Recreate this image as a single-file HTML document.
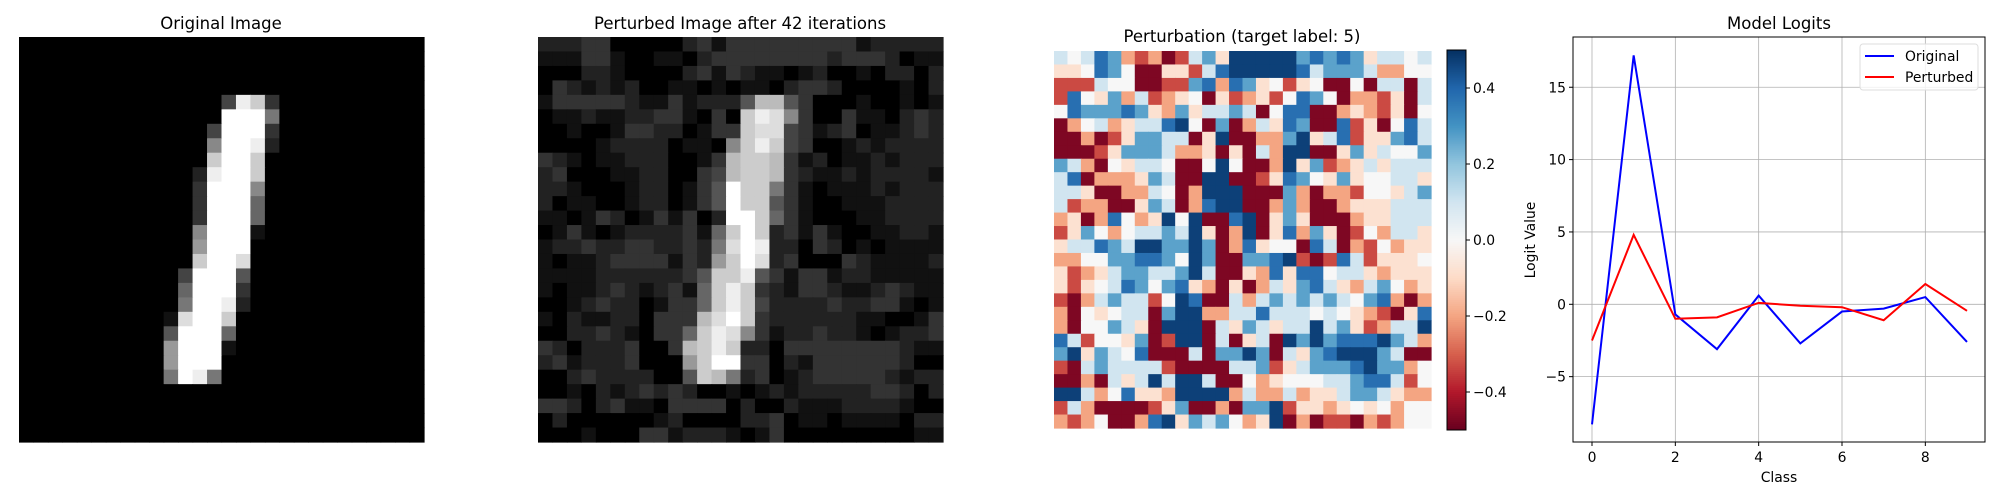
<!DOCTYPE html>
<html><head><meta charset="utf-8">
<style>
html,body{margin:0;padding:0;background:#fff;}
svg{display:block;font-family:"DejaVu Sans","Liberation Sans",sans-serif;}
</style></head>
<body>
<svg id="fig" width="2000" height="500" viewBox="0 0 2000 500" xmlns="http://www.w3.org/2000/svg">
<rect width="2000" height="500" fill="#fff"/>
<text x="221" y="29" text-anchor="middle" font-size="16.5">Original Image</text>
<text x="740" y="29" text-anchor="middle" font-size="16.5">Perturbed Image after 42 iterations</text>
<text x="1242" y="42" text-anchor="middle" font-size="16.5">Perturbation (target label: 5)</text>
<text x="1779" y="29" text-anchor="middle" font-size="16.5">Model Logits</text>
<g id="g-orig"></g>
<g id="g-pert"></g>
<g id="g-heat"></g>
<g id="g-cbar"></g>
<g id="g-logit"></g>
</svg>
<script>
// ---- data ----
const Z="0000000000000000000000000000";
const origRows = [Z,Z,Z,Z,
"00000000000000"+"4ec3","00000000000000"+"fff7","0000000000000"+"4fff3","0000000000000"+"8ffe2",
"0000000000000"+"cffc","000000000000"+"2effc","000000000000"+"3fff8","000000000000"+"3fff6",
"000000000000"+"3fff6","000000000000"+"8fff1","000000000000"+"9fff","000000000000"+"cffd",
"00000000000"+"4fff5","00000000000"+"6fff3","00000000000"+"7ffe2","0000000000"+"1dffc",
"0000000000"+"5fff6","0000000000"+"9fff1","0000000000"+"9fff","0000000000"+"7fe7",
Z,Z,Z,Z];
const pertRows = [
"2223300000231333333333122222","1113310011023333333323332011","0002210000231321101200102202","0321212001101011023320000102",
"13333321131222"+"5bb5"+"3000100101",
"0112112233103"+"0ced8"+"3003110232",
"0010013322013"+"3cdd4"+"3123011232",
"0000122220110"+"8cec4"+"3001212222",
"3210112220013"+"bccb3"+"1201121222",
"230001122003"+"4bccb"+"32112122221",
"221000122013"+"5fcc7"+"31011121222",
"201100122013"+"5fcc5"+"31001112222",
"110132013130"+"2ffc6"+"31000112222",
"013101222231"+"6cfc2"+"31310011221",
"122322332232"+"7dfe"+"220320101111",
"101123333132"+"9cfd"+"230003211112",
"11112222223"+"5cce5"+"313312211111",
"10112321231"+"6cec"+"3213321123211",
"00123220133"+"6cec4"+"222232233101",
"10211220333"+"bdfc"+"3222222110013",
"0022321033"+"6ced8"+"3122322101223",
"3202223003"+"bcec"+"22033333333211",
"2312223000"+"9cff"+"33021333333200",
"0023222200"+"5cb7"+"23012333332122",
"0010212323200101212222233202","3320231103333020021112222100","0200000012000022301101111022","0001000331222101300000000011"];
const heatRows = [
"lwlBboroRrlbpDDDDDbBbBbpllwl","ppwBbwRRpprlBDDDDDBlbbblooww","rrrlwwRRrrbBoBbpwrpwRRwRllRl","rBwpbolropwRproprwBbwRoorpRl",
"wBbbbBbpobpllblRwBBRRoporpRw","RowlopllBDwRbRolpBbRRBrpRwBl","RRoRrpbbllRpDRRoobDplBrppbBl","RRRrpbbbloopRpRloDDRRpbplwwb",
"bloRwpllwRRwDwRRoDpbroplplll","lBRooopblRRDDRRrpBbwpbpwwllp","llpRRoolwRoDDDRRRboRoorwwplb","lrooRRpblRoBDDRRoboRRoppplll",
"opRoBwopDwDRRBDRpbpRRRopplll","rpbwowllblDpRoDRpBobpRrwollp","pllBblDDbbDbRoBpwwRBlRorwopp","oowwbbBBbwDbRRbbBDrRrBlrpppw",
"proplbbllbDlRRpoBpBBwllpoppp","prpwlBbwbBpoRpRolpbBlpolbwop","rRolbllrwDBRRlolblblblwbBoRo","oRwpwllRbDDoollBlllwlwporRpB",
"oRwwblpRDDDRlpblpllDlbprollD","BlrwwpbRrDDRlRplRDbDbBBBDblo","bDpblwBRRRlRbbDbRlpbBDDDblRR","rRlbllllrRRRRllbrplbbbBDbbow",
"RRoRlplDlDDlRRwopwwwllbBBlrw","DDlowBppoDDDDoloolopplbblpoo","rloRRRRrpbRRoRbbDrppopwpwoww","orowRRoBDpblbwopDRoRrrRoroww"];
const classes = [0,1,2,3,4,5,6,7,8,9];
const origLogits = [-8.3,17.2,-0.7,-3.1,0.6,-2.7,-0.5,-0.3,0.5,-2.6];
const pertLogits = [-2.5,4.8,-1.0,-0.9,0.1,-0.1,-0.2,-1.1,1.4,-0.45];
const yTicks = [-5,0,5,10,15];
const xTicks = [0,2,4,6,8];
const cbarTicks = [-0.4,-0.2,0.0,0.2,0.4];
const letterVals = {R:-0.47,r:-0.33,o:-0.2,p:-0.08,w:0,l:0.1,b:0.27,B:0.38,D:0.47};
// ----
const NS="http://www.w3.org/2000/svg";
function mk(tag,attrs,parent){const e=document.createElementNS(NS,tag);for(const k in attrs)e.setAttribute(k,attrs[k]);parent.appendChild(e);return e;}
function gridVal(row,c,fn){const s=row.replace(/ /g,'');return c<s.length?fn(s[c]):fn(null);}
function gray(v){const g=Math.round(Math.max(0,Math.min(1,v))*255);return `rgb(${g},${g},${g})`;}
function drawGray(gid,rows,x0,y0,size){
  const g=document.getElementById(gid);const cs=size/28;
  for(let r=0;r<28;r++)for(let c=0;c<28;c++){
    const v=gridVal(rows[r]||"",c,ch=>ch?parseInt(ch,16)/15:0);
    const e=mk('rect',{x:x0+c*cs,y:y0+r*cs,width:cs+0.6,height:cs+0.6,fill:gray(v)},g);
    
    
  }
}
drawGray('g-orig',origRows,19,37,405);
drawGray('g-pert',pertRows,538,37,405);
const rdbu=["#67001f","#b2182b","#d6604d","#f4a582","#fddbc7","#f7f7f7","#d1e5f0","#92c5de","#4393c3","#2166ac","#053061"];
function hex(h){return [1,3,5].map(i=>parseInt(h.substr(i,2),16));}
function cmap(v){let t=(v+0.5)/1.0;t=Math.max(0,Math.min(1,t))*10;const i=Math.min(9,Math.floor(t));const f=t-i;const a=hex(rdbu[i]),b=hex(rdbu[i+1]);
  return `rgb(${a.map((x,k)=>Math.round(x+(b[k]-x)*f)).join(',')})`;}
(function(){
  const g=document.getElementById('g-heat');const x0=1054,y0=51,size=377,cs=size/28;
  for(let r=0;r<28;r++)for(let c=0;c<28;c++){
    const v=gridVal(heatRows[r],c,ch=>ch&&letterVals[ch]!==undefined?letterVals[ch]:0);
    const e=mk('rect',{x:x0+c*cs,y:y0+r*cs,width:cs+0.6,height:cs+0.6,fill:cmap(v)},g);
    
    
  }
  const cb=document.getElementById('g-cbar');const cx=1447,cw=19,cy0=50,cy1=430;
  const cbY=v=>cy1-(v+0.5)/1.0*(cy1-cy0);
  for(let i=0;i<190;i++){const v=-0.5+(i+0.5)/190;mk('rect',{x:cx,y:cbY(v)-1.2,width:cw,height:2.4,fill:cmap(v)},cb);}
  mk('rect',{x:cx,y:cy0,width:cw,height:cy1-cy0,fill:'none',stroke:'#000','stroke-width':1},cb);
  cbarTicks.forEach(t=>{const y=cbY(t);mk('line',{x1:cx+cw,x2:cx+cw+4,y1:y,y2:y,stroke:'#000'},cb);
    const tx=mk('text',{x:cx+cw+7,y:y+5,'font-size':'13.9'},cb);tx.textContent=(t<0?'\u2212':'')+Math.abs(t).toFixed(1);
    
    });
})();
(function(){
  const g=document.getElementById('g-logit');
  const L=1573,R=1985,T=37,B=442;
  const xS=v=>1592+(v-0)*(1967-1592)/9;
  const yS=v=>304.3-v*14.47;
  yTicks.forEach(t=>{const y=yS(t);mk('line',{x1:L,x2:R,y1:y,y2:y,stroke:'#b0b0b0','stroke-width':0.8},g);
    mk('line',{x1:L-4,x2:L,y1:y,y2:y,stroke:'#000'},g);
    const tx=mk('text',{x:L-7,y:y+5,'text-anchor':'end','font-size':'13.9'},g);tx.textContent=(t<0?'\u2212':'')+Math.abs(t);
    
    });
  xTicks.forEach(t=>{const x=xS(t);mk('line',{x1:x,x2:x,y1:T,y2:B,stroke:'#b0b0b0','stroke-width':0.8},g);
    mk('line',{x1:x,x2:x,y1:B,y2:B+4,stroke:'#000'},g);
    const tx=mk('text',{x:x,y:B+20,'text-anchor':'middle','font-size':'13.9'},g);tx.textContent=t;
    
    });
  function line(vals,color,name){const p=mk('polyline',{points:classes.map((c,i)=>xS(c)+','+yS(vals[i])).join(' '),fill:'none',stroke:color,'stroke-width':2},g);
    
    }
  line(origLogits,'#0000ff','original-line');
  line(pertLogits,'#ff0000','perturbed-line');
  mk('rect',{x:L,y:T,width:R-L,height:B-T,fill:'none',stroke:'#000','stroke-width':1},g);
  const xl=mk('text',{x:1779,y:482,'text-anchor':'middle','font-size':'13.9'},g);xl.textContent='Class';
  
  
  const yl=mk('text',{x:0,y:0,'text-anchor':'middle','font-size':'13.9',transform:'translate(1535,240) rotate(-90)'},g);yl.textContent='Logit Value';
  
  
  const lg=mk('g',{},g);
  
  
  mk('rect',{x:1860,y:44,width:118,height:46,rx:3,fill:'#fff','fill-opacity':0.8,stroke:'#ddd'},lg);
  mk('line',{x1:1865,x2:1894,y1:56,y2:56,stroke:'#0000ff','stroke-width':2},lg);
  mk('line',{x1:1865,x2:1894,y1:77,y2:77,stroke:'#ff0000','stroke-width':2},lg);
  const t1=mk('text',{x:1905,y:61,'font-size':'13.9'},lg);t1.textContent='Original';
  
  
  const t2=mk('text',{x:1905,y:82,'font-size':'13.9'},lg);t2.textContent='Perturbed';
  
  
})();
</script>
</body></html>
